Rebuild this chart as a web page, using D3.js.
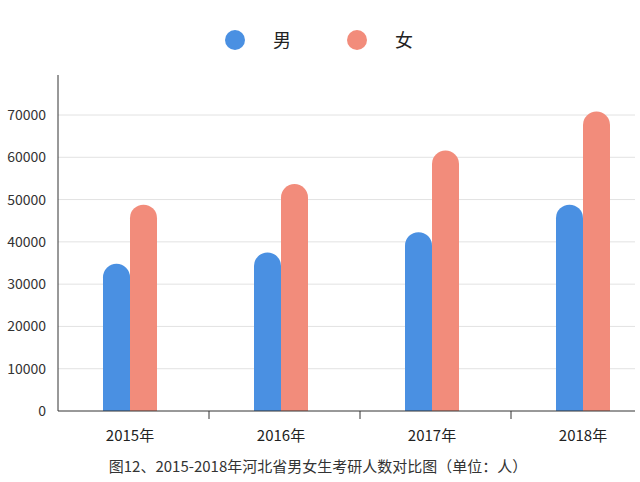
<!DOCTYPE html>
<html><head><meta charset="utf-8">
<script src="https://cdn.jsdelivr.net/npm/d3@7"></script>
<style>body{margin:0;background:#fff;font-family:"Noto Sans CJK SC","Noto Sans",sans-serif;}</style>
</head><body>
<svg id="chart" width="640" height="482"></svg>
<script>
const years = ["2015年", "2016年", "2017年", "2018年"];
const male = [34800, 37500, 42300, 48800];
const female = [48800, 53700, 61600, 70800];
const yTicks = [0, 10000, 20000, 30000, 40000, 50000, 60000, 70000];
const seriesNames = ["男", "女"];
const colors = ["#4a90e2", "#f28c7b"];

const svg = d3.select("#chart");
const plotLeft = 58, plotBottom = 411, plotTop = 75;

const x = d3.scaleBand().domain(years).range([plotLeft, plotLeft + 604]);
const y = d3.scaleLinear().domain([0, 70000]).range([plotBottom, 115]);

// grid
svg.append("g").selectAll("line").data(yTicks.slice(1)).enter().append("line")
  .attr("x1", plotLeft).attr("x2", 635)
  .attr("y1", d => y(d)).attr("y2", d => y(d))
  .attr("stroke", "#e2e2e2");

// y labels
svg.append("g").selectAll("text").data(yTicks).enter().append("text")
  .attr("x", 46).attr("y", d => y(d) + 5)
  .attr("text-anchor", "end").attr("font-size", 14).attr("fill", "#333")
  .text(d => d);

// bars with rounded tops
const bw = 27;
function barPath(x0, v) {
  const yt = y(v), r = bw / 2;
  return `M${x0},${plotBottom}V${yt + r}A${r},${r} 0 0 1 ${x0 + bw},${yt + r}V${plotBottom}Z`;
}
[male, female].forEach((vals, s) => {
  svg.append("g").selectAll("path").data(years).enter().append("path")
    .attr("d", (d, i) => barPath(x(d) + 45 + s * bw, vals[i]))
    .attr("fill", colors[s]);
});

// axes
svg.append("line").attr("x1", plotLeft).attr("x2", plotLeft).attr("y1", plotTop).attr("y2", plotBottom).attr("stroke", "#333");
svg.append("line").attr("x1", plotLeft).attr("x2", 635).attr("y1", plotBottom).attr("y2", plotBottom).attr("stroke", "#333");
svg.append("g").selectAll("line").data(years.slice(1)).enter().append("line")
  .attr("x1", d => x(d)).attr("x2", d => x(d))
  .attr("y1", plotBottom).attr("y2", plotBottom + 8).attr("stroke", "#333");
svg.append("g").selectAll("text").data(years).enter().append("text")
  .attr("x", d => x(d) + 72).attr("y", 441)
  .attr("text-anchor", "middle").attr("font-size", 15).attr("fill", "#222")
  .text(d => d);

// legend
const lx = [235, 357];
seriesNames.forEach((n, i) => {
  svg.append("circle").attr("cx", lx[i]).attr("cy", 40).attr("r", 10).attr("fill", colors[i]);
  svg.append("text").attr("x", lx[i] + 38).attr("y", 47).attr("font-size", 18)
    .attr("fill", "#222").text(n);
});

// caption
svg.append("text").attr("x", 318).attr("y", 472).attr("text-anchor", "middle")
  .attr("font-size", 15).attr("fill", "#333")
  .text("图12、2015-2018年河北省男女生考研人数对比图（单位：人）");
</script>
</body></html>
